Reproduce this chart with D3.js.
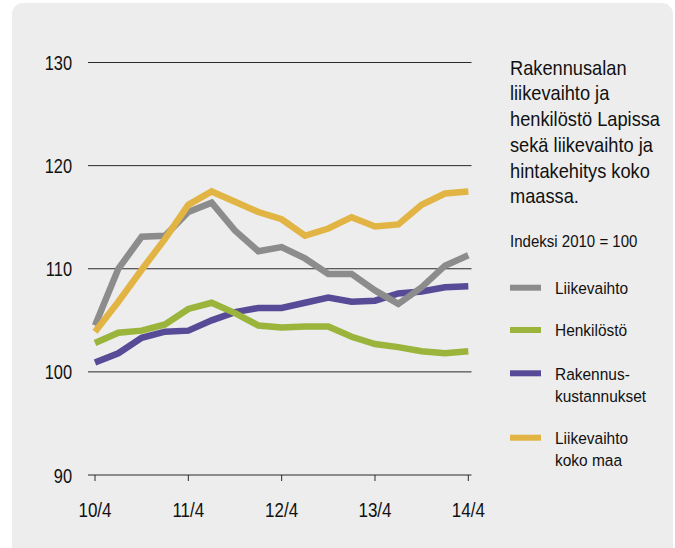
<!DOCTYPE html>
<html>
<head>
<meta charset="utf-8">
<script src="https://cdn.jsdelivr.net/npm/d3@7"></script>
<style>
  body { margin: 0; background: #fff; }
  svg text { font-family: "Liberation Sans", Arial, sans-serif; fill: #111; }
</style>
</head>
<body>
<svg id="chart" width="675" height="548"></svg>
<script>
// quarters 10/4 ... 14/4
var quarters = ["10/4","11/1","11/2","11/3","11/4","12/1","12/2","12/3","12/4",
                "13/1","13/2","13/3","13/4","14/1","14/2","14/3","14/4"];
var xTickLabels = ["10/4","11/4","12/4","13/4","14/4"];
var yTicks = [90, 100, 110, 120, 130];

var liikevaihto = [104.5, 110.0, 113.1, 113.2, 115.5, 116.4, 113.7, 111.7, 112.1,
                   111.0, 109.5, 109.5, 107.9, 106.6, 108.2, 110.3, 111.3];
var henkilosto = [102.8, 103.8, 104.0, 104.6, 106.1, 106.7, 105.7, 104.5, 104.3,
                  104.4, 104.4, 103.4, 102.7, 102.4, 102.0, 101.8, 102.0];
var rakennuskustannukset = [100.9, 101.8, 103.3, 103.9, 104.0, 105.0, 105.8, 106.2, 106.2,
                            106.7, 107.2, 106.8, 106.9, 107.6, 107.8, 108.2, 108.3];
var liikevaihtoKokoMaa = [103.9, 106.8, 109.9, 112.9, 116.2, 117.5, 116.5, 115.5, 114.8,
                          113.2, 113.9, 115.0, 114.1, 114.3, 116.2, 117.3, 117.5];

var seriesNames = ["Liikevaihto", "Henkilöstö", "Rakennuskustannukset", "Liikevaihto koko maa"];
var legendLabels = [["Liikevaihto"], ["Henkilöstö"], ["Rakennus-", "kustannukset"], ["Liikevaihto", "koko maa"]];
var colors = ["#8c8c8c", "#9ab43c", "#574a96", "#e1b444"];
var titleLines = ["Rakennusalan", "liikevaihto ja", "henkilöstö Lapissa", "sekä liikevaihto ja", "hintakehitys koko", "maassa."];

var svg = d3.select("#chart");

// condensed look: plain font squeezed horizontally
function addText(parent, x, y, lines, size, anchor, sx, lineH) {
    var t = parent.append("g")
        .attr("transform", "translate(" + x + "," + y + ") scale(" + sx + ",1)")
        .append("text")
        .attr("font-size", size)
        .attr("text-anchor", anchor);
    t.selectAll("tspan")
        .data(lines)
        .enter()
        .append("tspan")
        .attr("x", 0)
        .attr("dy", function(d, i) { return i === 0 ? 0 : lineH; })
        .text(function(d) { return d; });
    return t;
}

// card background
svg.append("rect")
    .attr("x", 12).attr("y", 3)
    .attr("width", 661).attr("height", 560)
    .attr("rx", 11)
    .attr("fill", "#ededed");

var x = d3.scaleLinear().domain([0, quarters.length - 1]).range([95, 468.3]);
var y = d3.scaleLinear().domain([90, 130]).range([475, 62.5]);

// grid lines
svg.append("g")
    .selectAll("line")
    .data(yTicks)
    .enter()
    .append("line")
    .attr("x1", 88).attr("x2", 471.5)
    .attr("y1", function(d) { return y(d); })
    .attr("y2", function(d) { return y(d); })
    .attr("stroke", "#2a2a2a")
    .attr("stroke-width", 1);

// y labels
var yLab = svg.append("g");
yTicks.forEach(function(d) {
    addText(yLab, 72, y(d) + 7.5, [String(d)], 20.5, "end", 0.8, 0);
});

// x axis ticks + labels
var xAxis = svg.append("g");
xAxis.selectAll("line")
    .data(xTickLabels)
    .enter()
    .append("line")
    .attr("x1", function(d) { return x(quarters.indexOf(d)); })
    .attr("x2", function(d) { return x(quarters.indexOf(d)); })
    .attr("y1", y(90)).attr("y2", y(90) + 6)
    .attr("stroke", "#2a2a2a");
xTickLabels.forEach(function(d) {
    addText(xAxis, x(quarters.indexOf(d)), 516.5, [d], 20.5, "middle", 0.83, 0);
});

// lines
var allSeries = [liikevaihto, henkilosto, rakennuskustannukset, liikevaihtoKokoMaa];
var line = d3.line()
    .x(function(d, i) { return x(i); })
    .y(function(d) { return y(d); });

// draw order: purple, green, gray, yellow on top
[2, 1, 0, 3].forEach(function(k) {
    svg.append("path")
        .datum(allSeries[k])
        .attr("d", line)
        .attr("fill", "none")
        .attr("stroke", colors[k])
        .attr("stroke-width", 6.5)
        .attr("stroke-linejoin", "miter");
});

// title
addText(svg, 510, 74.5, titleLines, 20.5, "start", 0.89, 25.8);
addText(svg, 510, 246.5, ["Indeksi 2010 = 100"], 16, "start", 0.94, 0);

// legend
var legendY = [287.7, 330, 373.3, 437.7];
var legend = svg.append("g");
seriesNames.forEach(function(name, i) {
    legend.append("line")
        .attr("x1", 510).attr("x2", 541)
        .attr("y1", legendY[i]).attr("y2", legendY[i])
        .attr("stroke", colors[i])
        .attr("stroke-width", 6);
    addText(legend, 555, legendY[i] + 6.3, legendLabels[i], 17, "start", 0.91, 22.5);
});
</script>
</body>
</html>
